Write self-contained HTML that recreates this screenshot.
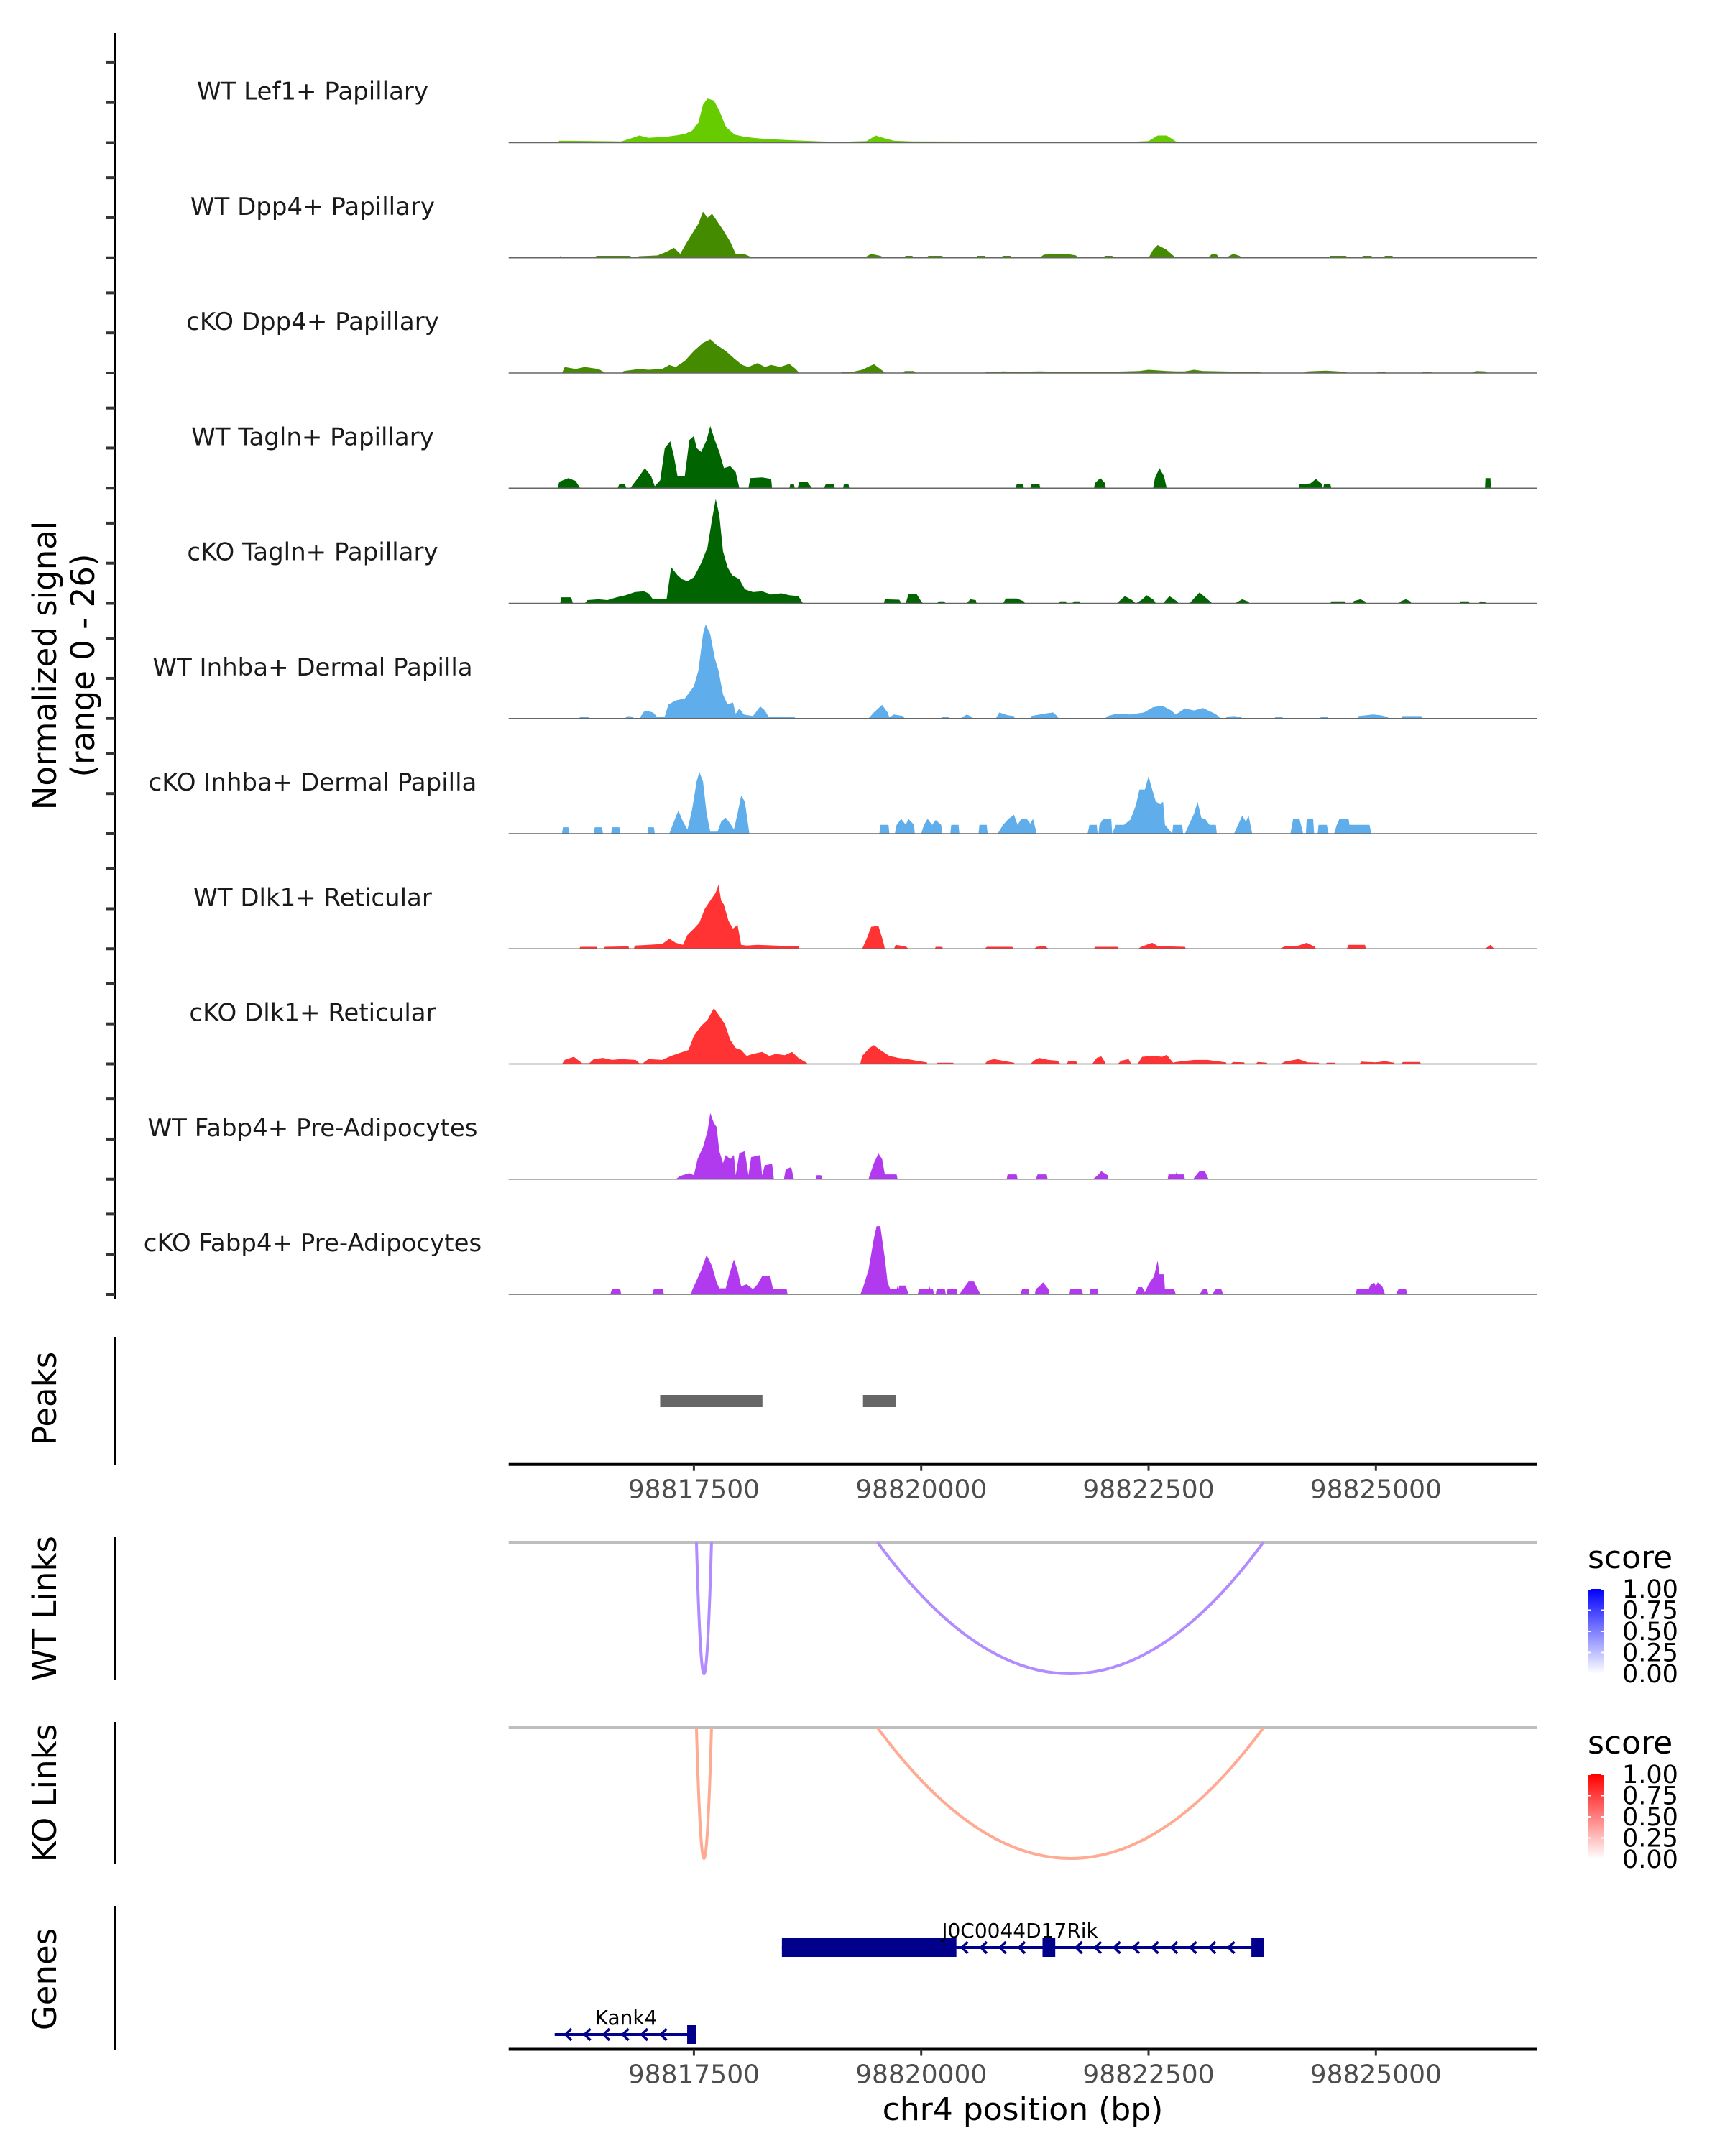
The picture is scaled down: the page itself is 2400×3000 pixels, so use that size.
<!DOCTYPE html>
<html>
<head>
<meta charset="utf-8">
<style>
html,body{margin:0;padding:0;background:#fff;}
svg{display:block;}
text{font-family:"DejaVu Sans","Liberation Sans",sans-serif;}
</style>
</head>
<body>
<svg id="fig" xmlns="http://www.w3.org/2000/svg" width="2400" height="3000" viewBox="0 0 2400 3000">
  <g id="cov"></g>
  <g id="peaks"></g>
  <g id="links"></g>
  <g id="genes"></g>
  <text transform="translate(78,926) rotate(-90)" text-anchor="middle" font-size="45" fill="#000">Normalized signal</text>
  <text transform="translate(131,926) rotate(-90)" text-anchor="middle" font-size="45" fill="#000">(range 0 - 26)</text>
  <text transform="translate(78,1946) rotate(-90)" text-anchor="middle" font-size="45" fill="#000">Peaks</text>
  <text transform="translate(78,2238) rotate(-90)" text-anchor="middle" font-size="45" fill="#000">WT Links</text>
  <text transform="translate(78,2495) rotate(-90)" text-anchor="middle" font-size="45" fill="#000">KO Links</text>
  <text transform="translate(78,2754) rotate(-90)" text-anchor="middle" font-size="45" fill="#000">Genes</text>
  <text x="1423" y="2950" text-anchor="middle" font-size="44" fill="#000">chr4 position (bp)</text>
</svg>
<script>
// ---------- data ----------
const trackNames = ["WT Lef1+ Papillary","WT Dpp4+ Papillary","cKO Dpp4+ Papillary","WT Tagln+ Papillary","cKO Tagln+ Papillary","WT Inhba+ Dermal Papilla","cKO Inhba+ Dermal Papilla","WT Dlk1+ Reticular","cKO Dlk1+ Reticular","WT Fabp4+ Pre-Adipocytes","cKO Fabp4+ Pre-Adipocytes"];
const trackColors = ["#66cc00","#458b00","#458b00","#006400","#006400","#5fadea","#5fadea","#ff3333","#ff3333","#b23aee","#b23aee"];
// coverage points: [bin (100bp from 98815500), signal]
const covWTLef1 = [[5,0],[5.2,0.5],[9,0.4],[12,0.3],[13,1],[14,1.8],[15,1.2],[17,1.5],[18,1.8],[19,2.2],[19.8,3],[20.5,5],[21,9.5],[21.5,11],[22.2,10.5],[22.8,8],[23.5,4],[24.5,2],[25.5,1.5],[26.5,1.2],[27.5,1],[29,0.8],[31,0.6],[34,0.3],[36,0.2],[39,0.4],[40,1.8],[40.8,1.2],[42,0.5],[44,0.3],[60,0.2],[68,0.2],[70,0.4],[71,1.8],[72,1.8],[73,0.3],[75,0.1],[108,0.1],[108.5,0]];
const covWTDpp4 = [[5,0],[5.3,0.4],[5.6,0],[9,0],[9.3,0.5],[13,0.5],[13.2,0],[14,0.4],[15,0.5],[16,0.6],[17,1.5],[17.8,2.5],[18.5,1],[19,3],[19.8,6],[20.5,8.5],[21,11.5],[21.5,10],[22,11],[22.6,9],[23.2,7],[24,4],[24.6,1],[25.5,1],[26,0.5],[26.5,0],[38.7,0],[39.5,1],[40.5,0.5],[41,0],[43,0],[43.3,0.5],[44,0.5],[44.3,0],[45.5,0],[45.8,0.5],[47.3,0.5],[47.5,0],[51,0],[51.2,0.5],[52,0.5],[52.2,0],[53.7,0],[54,0.5],[54.8,0.5],[55,0],[58,0],[58.5,0.8],[61,1],[62,0.6],[62.3,0],[65,0],[65.2,0.5],[66,0.5],[66.2,0],[70,0],[70.5,2],[71,3.2],[72,2],[72.5,1],[73,0],[76.5,0],[77,1],[77.5,0.8],[77.8,0],[78.5,0],[79.3,1],[80,0.5],[80.3,0],[89.7,0],[90,0.5],[91.7,0.5],[92,0],[93.3,0],[93.6,0.5],[94.5,0.5],[94.7,0],[95.8,0],[96,0.5],[96.8,0.5],[97,0]];
const covKODpp4 = [[5.5,0],[5.8,1.5],[7,1],[8,1.5],[9.5,1],[10.3,0],[12,0],[12.3,0.5],[14,1],[15,0.8],[16.5,1],[17.3,2],[18,1.5],[19,3],[20,5.5],[21,7.5],[21.8,8.4],[22.5,7],[23.5,5.5],[24.5,3.5],[25.3,2],[26,1.5],[27,2.5],[27.8,1.5],[28.5,2],[29.5,1.5],[30.5,2.3],[31.2,1],[31.6,0],[36,0],[36.5,0.3],[37.5,0.3],[38.5,0.8],[39.8,2.2],[40.8,0.5],[41,0],[43,0],[43.2,0.5],[44.2,0.5],[44.4,0],[52,0],[52.2,0.3],[53,0.2],[54,0.4],[56,0.3],[58,0.4],[60,0.3],[62,0.3],[64,0.2],[66,0.3],[69,0.5],[70,0.8],[72,0.5],[73,0.4],[74,0.4],[75,0.8],[76,0.5],[78,0.4],[80,0.3],[82,0.2],[83,0],[87,0],[87.5,0.4],[89.5,0.6],[91.5,0.3],[92,0],[95,0],[95.3,0.3],[96,0.3],[96.2,0],[100,0],[100.3,0.3],[101,0.3],[101.2,0],[105.5,0],[106,0.5],[107,0.4],[107.3,0]];
const covWTTagln = [[5,0],[5.2,1.6],[6.2,2.5],[7,1.8],[7.5,0],[11.6,0],[11.8,1],[12.4,1],[12.6,0],[13,0],[14,3],[14.6,5],[15.3,3],[15.7,0.5],[16.3,2],[16.8,10],[17.4,11.7],[17.8,8],[18.2,3],[19,3],[19.5,12],[20,13],[20.3,10],[20.8,9],[21.4,12],[21.8,15.5],[22.3,12],[22.8,9],[23.3,5],[24,5.5],[24.6,4],[25,0],[26,0],[26.2,2.5],[27.5,2.7],[28.5,2.3],[28.6,0],[30.5,0],[30.6,1],[31,1],[31.1,0],[31.4,0],[31.6,1.5],[32.5,1.5],[33,0],[34.3,0],[34.5,1],[35.4,1],[35.5,0],[36.4,0],[36.5,1],[37,1],[37.1,0],[55.4,0],[55.5,1],[56.2,1],[56.3,0],[57,0],[57.1,1],[58,1],[58.1,0],[64,0],[64.1,1.3],[64.7,2.5],[65.2,1.3],[65.3,0],[70.5,0],[70.7,2.5],[71.2,5],[71.7,3],[72,0],[86.5,0],[86.6,1],[87.8,1.2],[88.4,2.3],[89,1.2],[89.2,0],[89.3,1],[90,1],[90.1,0],[107,0],[107.05,2.5],[107.6,2.5],[107.65,0]];
const covKOTagln = [[5.3,0],[5.4,1.5],[6.5,1.5],[6.7,0],[8,0],[8.3,0.8],[9.5,1],[10.5,0.8],[11.5,1.5],[12.5,2],[13.5,2.8],[14.5,3],[15,2.5],[15.5,1],[17,1],[17.5,9],[18.2,7],[18.7,6],[19.3,5.5],[20,6.5],[20.8,10],[21.5,14],[22,21],[22.4,26],[22.8,22],[23.2,13],[23.7,9],[24.2,7],[25,6],[25.6,3.5],[26.5,2.8],[27.5,3],[28.5,2.2],[29.6,2.5],[30.5,2],[31.5,1.8],[32,0],[40.9,0],[41,1],[42.6,0.9],[42.8,0],[43.3,0],[43.6,2.3],[44.5,2.3],[45,0.5],[45.2,0],[46.7,0],[47,0.5],[47.5,0.5],[47.7,0],[50,0],[50.4,1],[51,0.8],[51.1,0],[54,0],[54.3,1.2],[55.5,1.2],[56.3,0.5],[56.4,0],[60.1,0],[60.3,0.5],[60.9,0.5],[61,0],[61.6,0],[61.8,0.5],[62.4,0.5],[62.5,0],[66.5,0],[67.4,1.8],[68.2,0.8],[68.6,0],[69.2,0.8],[69.8,2],[70.6,0.8],[70.8,0],[71.6,0],[72.3,1.8],[73.2,0.4],[73.3,0],[74.5,0],[75.6,2.7],[76.5,1],[77,0],[79.5,0],[80.3,1],[81,0.4],[81.1,0],[90,0],[90.1,0.5],[91.6,0.5],[91.7,0],[92.4,0],[92.6,0.6],[93.3,1],[93.8,0.5],[93.9,0],[97.5,0],[97.8,0.6],[98.3,1],[98.8,0.5],[98.9,0],[104.2,0],[104.3,0.5],[105.2,0.5],[105.3,0],[106.3,0],[106.5,0.5],[107,0.4],[107.1,0]];
const covWTInhba = [[7.4,0],[7.5,0.5],[8.4,0.5],[8.5,0],[12.4,0],[12.7,0.6],[13.3,0.5],[13.4,0],[14,0],[14.6,2],[15.5,1.5],[16,0.3],[16.8,0.5],[17.2,3.5],[18,4.5],[19,5],[19.5,6.5],[20,8],[20.5,12],[21,21],[21.3,23.5],[21.8,21],[22.3,15],[22.7,12],[23.2,6],[23.7,3.5],[24.3,4],[24.6,1.2],[25,2.5],[25.5,1],[26.5,0.6],[27.3,3],[27.8,2],[28.2,0.5],[31,0.5],[31.2,0],[39.2,0],[39.8,1.5],[40.7,3.4],[41.3,1.5],[41.5,0.3],[42,1],[43,0.6],[43.2,0],[47.2,0],[47.3,0.5],[48,0.5],[48.1,0],[49.3,0],[50,1],[50.5,0.5],[50.6,0],[53.2,0],[53.6,1.5],[54.5,0.8],[55.2,0.6],[55.3,0],[57,0],[57.1,0.6],[58.5,1.2],[59.5,1.5],[60,0.5],[60.1,0],[65.2,0],[65.5,0.6],[66.5,1.2],[68,1],[69.5,1.5],[70.5,2.8],[71.5,3.2],[72.5,2],[73,1],[74,2.5],[75,2],[76,2.6],[77.3,1.2],[77.8,0.4],[78,0],[78.5,0],[78.6,0.5],[79.5,0.6],[80.2,0.3],[80.3,0],[83.8,0],[84,0.4],[84.7,0.4],[84.8,0],[88.8,0],[89,0.4],[89.7,0.4],[89.8,0],[93,0],[93.1,0.6],[94.7,1],[95.5,0.8],[96.3,0.4],[96.4,0],[97.8,0],[97.9,0.6],[100,0.6],[100.1,0]];
const covKOInhba = [[5.5,0],[5.6,1.6],[6.2,1.6],[6.3,0],[9,0],[9.1,1.6],[9.9,1.6],[10,0],[10.9,0],[11,1.6],[11.8,1.6],[11.9,0],[14.9,0],[15,1.6],[15.6,1.6],[15.7,0],[17.3,0],[17.8,3],[18.3,5.8],[18.8,3],[19.3,1],[19.8,6],[20.3,13],[20.6,15.4],[21,13],[21.4,5],[21.8,0.5],[22.6,0.5],[23,3],[23.5,4],[24,2.5],[24.4,1],[24.8,5],[25.2,9.5],[25.6,8],[26.1,0],[40.4,0],[40.5,2.2],[41.4,2.2],[41.5,0],[42.1,0],[42.3,2.2],[42.8,3.7],[43.3,2.2],[43.6,3.7],[44.2,2.2],[44.3,0],[45,0],[45.3,2.2],[45.7,3.7],[46.2,2.2],[46.6,3.4],[47.2,2.2],[47.3,0],[48.2,0],[48.3,2.2],[49.1,2.2],[49.2,0],[51.3,0],[51.4,2.2],[52.2,2.2],[52.3,0],[53.4,0],[54,2.2],[54.6,3.7],[55.2,4.7],[55.6,2.2],[56,3.7],[56.6,3.7],[57,2.5],[57.3,3.7],[57.7,0],[63.3,0],[63.5,2.2],[64.3,2.2],[64.4,0],[64.5,0],[64.6,2.2],[65,3.7],[65.9,3.7],[66,0],[66.4,2.2],[67.3,2.2],[68,3.5],[68.6,7],[69,11],[69.6,11],[70,14.3],[70.4,11],[70.8,8],[71.3,7.3],[71.6,8],[71.8,2.2],[72.6,0],[72.7,2.2],[73.7,2.2],[73.8,0],[74,0],[74.5,2.5],[75,5],[75.4,7.9],[75.8,4],[76.3,3.5],[76.7,2.2],[77.4,2.2],[77.5,0],[79.4,0],[80,3],[80.3,4.5],[80.7,3],[81,4.5],[81.4,0],[85.6,0],[85.9,3.7],[86.6,3.7],[87,0],[87.3,0],[87.4,3.7],[88.1,3.7],[88.2,0],[88.6,0],[88.7,2.2],[89.6,2.2],[89.8,0],[90.4,0],[90.7,2.2],[91,3.7],[92,3.7],[92.1,2.2],[94.3,2.2],[94.5,0]];
const covWTDlk1 = [[7.4,0],[7.5,0.5],[9.3,0.5],[9.4,0],[10.1,0],[10.2,0.5],[12.8,0.6],[12.9,0],[13.4,0],[13.5,0.8],[15,1],[16.5,1.2],[17.3,2.5],[18,1.5],[18.8,1],[19.3,3.5],[20,5],[20.6,6.5],[21.2,10],[21.8,12],[22.4,14],[22.7,16],[23,12],[23.3,11],[23.8,7],[24.3,5],[24.8,6],[25.2,1],[25.8,0.8],[27,1],[29,0.8],[31.5,0.6],[31.6,0],[38.5,0],[39,2.5],[39.5,5.5],[40.3,5.7],[40.8,2],[41,0],[42,0],[42.2,1],[43.3,0.6],[43.6,0],[46.5,0],[46.6,0.5],[47.3,0.5],[47.4,0],[52,0],[52.2,0.5],[55,0.5],[55.2,0],[57.4,0],[57.7,0.5],[58.6,0.7],[59,0],[64,0],[64.1,0.5],[66.6,0.5],[66.7,0],[68.8,0],[69.3,0.6],[70.4,1.5],[71,0.7],[72,0.6],[74,0.5],[74.1,0],[84.4,0],[85,0.6],[86.5,0.8],[87.4,1.5],[88.3,0.5],[88.4,0],[91.8,0],[92,1],[93.8,1],[93.9,0],[107,0],[107.6,1],[108,0]];
const covKODlk1 = [[5.5,0],[5.8,1],[6.8,1.8],[7.7,0.2],[8.5,0.2],[9,1.2],[10,1.5],[11,1],[12,1.2],[13.6,1],[14,0.2],[14.4,0.2],[15,1.2],[16.5,1],[17.5,2],[18.5,2.8],[19.4,3.5],[20,7],[20.8,9.5],[21.5,11],[22.2,13.9],[22.8,12],[23.4,10],[24,6],[24.6,4],[25.2,3.5],[25.8,2],[26.5,2.5],[27.5,3],[28.3,2],[29,2.5],[30,2.2],[30.8,3],[31.5,1.5],[32.4,0.3],[32.5,0],[38.3,0],[38.5,2],[39.3,4],[39.8,4.7],[40.5,3.5],[41.5,2],[42.5,1.5],[43.5,1.2],[44.5,0.8],[45.6,0.4],[45.7,0],[46.7,0],[46.8,0.3],[48.5,0.3],[48.6,0],[52,0],[52.3,0.8],[53,1.2],[54.5,0.6],[55.2,0.3],[55.3,0],[57,0],[57.5,1],[58,1.5],[59,1],[60,0.8],[60.3,0],[61,0],[61.2,0.8],[62,0.8],[62.2,0],[63.8,0],[64.3,1.5],[64.8,1.9],[65.2,0.5],[65.3,0],[66.6,0],[67,0.8],[67.8,1.2],[68.1,0],[68.8,0],[69.3,1.8],[70.5,2],[71.5,1.8],[72,2.3],[72.7,0.3],[73,0.5],[75,1],[76.5,1],[78.5,0.4],[78.6,0],[79,0],[79.3,0.5],[80.5,0.4],[80.6,0],[81.8,0],[82,0.5],[83,0.3],[83.1,0],[84.5,0],[85,0.6],[86.5,1.2],[87.5,0.4],[88.7,0.3],[88.8,0],[89.5,0],[89.6,0.3],[90.5,0.3],[90.6,0],[93.2,0],[93.4,0.6],[95,0.4],[96,0.7],[97,0.3],[97.1,0],[97.7,0],[98,0.5],[99.8,0.5],[100,0]];
const covWTFabp4 = [[18,0],[18.5,0.8],[19.5,1.5],[20,1],[20.4,5],[21,8],[21.5,12],[21.8,16.5],[22.2,14],[22.5,13],[22.8,7],[23.2,4],[23.5,6],[24,5],[24.4,6],[24.6,1],[25,6.5],[25.6,7],[26,1],[26.3,5.5],[27.3,6],[27.5,1],[27.8,3.5],[28.6,3.8],[28.8,0],[29.9,0],[30.1,2.5],[30.7,3],[31,0],[33.4,0],[33.5,1],[34,1],[34.1,0],[39.2,0],[39.8,4],[40.3,6.4],[40.7,5],[41,1.2],[42.3,1.2],[42.4,0],[54.4,0],[54.5,1.2],[55.5,1.2],[55.6,0],[57.6,0],[57.8,1.2],[58.8,1.2],[58.9,0],[63.9,0],[64.5,1.2],[64.8,2],[65.5,1],[65.6,0],[72.1,0],[72.2,1.2],[73,1.2],[73.1,2],[73.2,1.2],[73.9,1.2],[74,0],[74.9,0],[75.3,1.2],[75.6,2],[76.2,2],[76.6,0]];
const covKOFabp4 = [[10.8,0],[11,1.3],[11.9,1.3],[12,0],[15.4,0],[15.6,1.3],[16.6,1.3],[16.7,0],[19.7,0],[19.8,1],[20.2,3],[20.8,6],[21.4,9.8],[22,7],[22.5,3],[22.8,1.5],[23.5,1.5],[23.9,5],[24.4,8.7],[24.8,6],[25.2,2],[25.8,2.5],[26.5,1.3],[27,2.5],[27.5,4.5],[28.4,4.5],[28.7,1.3],[30.2,1.3],[30.3,0],[38.3,0],[38.5,1],[39.2,6],[39.8,14],[40.1,17],[40.5,17],[41,9],[41.3,3],[41.6,1.3],[42.3,1.3],[42.4,2],[42.5,1.3],[42.6,2.2],[43.3,2.2],[43.6,0],[44.6,0],[44.8,1.3],[45.8,1.3],[45.9,2],[46,1.3],[46.3,1.3],[46.4,0],[46.6,0],[46.7,1.3],[47.6,1.3],[47.7,0],[47.8,0],[47.9,1.3],[48.9,1.3],[49,0],[49.2,0],[49.6,1.3],[50.2,3.2],[50.8,3.2],[51.4,0.5],[51.5,0],[55.9,0],[56.1,1.3],[56.8,1.3],[56.9,0],[57.5,0],[57.6,1.3],[58,2],[58.4,3],[59,1.3],[59.1,0],[61.3,0],[61.4,1.3],[62.6,1.3],[62.8,0],[63.5,0],[63.6,1.3],[64.4,1.3],[64.5,0],[68.5,0],[68.9,1.8],[69.3,1.8],[69.6,0.5],[70,2.5],[70.6,4.5],[71,8.4],[71.2,5],[71.7,5],[71.8,1.3],[72.8,1.3],[73,0],[75.6,0],[76,1.3],[76.4,1.3],[76.6,0],[77,0],[77.4,1.3],[78,1.3],[78.2,0],[92.8,0],[92.9,1.3],[94.2,1.3],[94.4,2.3],[94.8,3],[95,2],[95.2,3],[95.7,2],[96,0],[97.2,0],[97.5,1.3],[98.3,1.3],[98.5,0]];
const coverage = [covWTLef1,covWTDpp4,covKODpp4,covWTTagln,covKOTagln,covWTInhba,covKOInhba,covWTDlk1,covKODlk1,covWTFabp4,covKOFabp4];
const yTicks = [0,10,20];
const xTicks = [98817500,98820000,98822500,98825000];
const peakStarts = [98817129,98819360];
const peakEnds = [98818254,98819718];
const linkStarts = [98817528,98819519];
const linkEnds = [98817694,98823763];
const wtLinkScores = [0.5,0.5];
const koLinkScores = [0.45,0.45];
const legendTicks = [1.00,0.75,0.50,0.25,0.00];
const geneNames = ["J0C0044D17Rik","Kank4"];
const geneStarts = [98818468,98815969];
const geneEnds = [98823772,98817528];
const geneExons = [[[98818468,98820387],[98821334,98821474],[98823631,98823772]],[[98817426,98817528]]];

// ---------- scales ----------
const NS = "http://www.w3.org/2000/svg";
const X0 = 707.7, X1 = 2138.5;
function xScale(bp){ return 965.4 + (bp - 98817500) * 0.126520; }
function binBp(b){ return 98815500 + b * 100; }
const base0 = 198.5, trackStep = 160.25, pxPerUnit = 5.58;
function trackBase(i){ return base0 + i * trackStep; }
function yScale(i, v){ return trackBase(i) - v * pxPerUnit; }
function mk(tag, attrs, parent){ const e = document.createElementNS(NS, tag); for (const k in attrs) e.setAttribute(k, attrs[k]); parent.appendChild(e); return e; }

// ---------- coverage ----------
const cov = document.getElementById('cov');
const yAxis = mk('line', {x1:160, y1:46, x2:160, y2:1808, stroke:'#000', 'stroke-width':4}, cov);


trackNames.forEach((name, i) => {
  const g = mk('g', {}, cov);
  
  
  yTicks.forEach(t => {
    const tk = mk('line', {x1:148, x2:160, y1:yScale(i, t), y2:yScale(i, t), stroke:'#333', 'stroke-width':4}, g);
    
    
  });
  const pts = coverage[i];
  let d = 'M' + xScale(binBp(pts[0][0])).toFixed(1) + ',' + trackBase(i).toFixed(1);
  pts.forEach(p => { d += 'L' + xScale(binBp(p[0])).toFixed(1) + ',' + yScale(i, p[1]).toFixed(1); });
  d += 'L' + xScale(binBp(pts[pts.length-1][0])).toFixed(1) + ',' + trackBase(i).toFixed(1) + 'Z';
  const area = mk('path', {d:d, fill:trackColors[i], stroke:'none'}, g);
  
  
  const bl = mk('line', {x1:X0, x2:X1, y1:trackBase(i), y2:trackBase(i), stroke:'#666', 'stroke-width':1.6}, g);
  
  
  const lb = mk('text', {x:435, y:trackBase(i) - 60, 'text-anchor':'middle', 'font-size':34, fill:'#1a1a1a'}, g);
  lb.textContent = name;
  
  
});

// ---------- x axis helper ----------
function xAxis(parent, y, name){
  const g = mk('g', {}, parent);
  
  
  mk('line', {x1:X0, x2:X1, y1:y, y2:y, stroke:'#000', 'stroke-width':4}, g);
  xTicks.forEach(t => {
    const tk = mk('line', {x1:xScale(t), x2:xScale(t), y1:y, y2:y+9, stroke:'#333', 'stroke-width':3}, g);
    
    
    const tl = mk('text', {x:xScale(t), y:y+47, 'text-anchor':'middle', 'font-size':36, fill:'#4d4d4d'}, g);
    tl.textContent = String(t);
    
    
  });
}

// ---------- peaks ----------
const pk = document.getElementById('peaks');
const pkAx = mk('line', {x1:160, x2:160, y1:1861, y2:2038, stroke:'#000', 'stroke-width':4}, pk);


peakStarts.forEach((s, i) => {
  const r = mk('rect', {x:xScale(s), y:1941, width:xScale(peakEnds[i]) - xScale(s), height:17, fill:'#666'}, pk);
  
  
});
xAxis(pk, 2037.7, 'peaks-x-axis');

// ---------- links ----------
const lk = document.getElementById('links');
function linkPanel(top, bottom, scores, hue, label, legTop){
  const g = mk('g', {}, lk);
  
  
  mk('line', {x1:160, x2:160, y1:top - 8, y2:bottom + 8, stroke:'#000', 'stroke-width':4}, g);
  mk('line', {x1:X0, x2:X1, y1:top, y2:top, stroke:'#bebebe', 'stroke-width':4}, g);
  const depth = bottom - top;
  linkStarts.forEach((s, i) => {
    const xa = xScale(s), xb = xScale(linkEnds[i]);
    const s2 = scores[i];
    const col = hue === 'blue'
      ? 'rgb(' + Math.round(255 - 154*s2) + ',' + Math.round(255 - 230*s2) + ',255)'
      : 'rgb(255,' + Math.round(255 - 190*s2) + ',' + Math.round(255 - 240*s2) + ')';
    const p = mk('path', {d:'M' + xa + ',' + top + ' Q' + ((xa+xb)/2) + ',' + (top + 2*depth) + ' ' + xb + ',' + top, fill:'none', stroke:col, 'stroke-width':4}, g);
    
    
  });
  const lg = mk('g', {}, g);
  
  
  const t = mk('text', {x:2209, y:legTop - 29, 'font-size':44, fill:'#000'}, lg);
  t.textContent = 'score';
  const gid = 'grad-' + hue;
  const defs = mk('defs', {}, lg);
  const gr = mk('linearGradient', {id:gid, x1:0, y1:1, x2:0, y2:0}, defs);
  mk('stop', {offset:'0', 'stop-color':'#ffffff'}, gr);
  mk('stop', {offset:'1', 'stop-color': hue === 'blue' ? '#0000ff' : '#ff0000'}, gr);
  const barH = 118;
  const bar = mk('rect', {x:2209, y:legTop, width:23, height:barH, fill:'url(#' + gid + ')'}, lg);
  
  
  legendTicks.forEach(v => {
    const y = legTop + (1 - v) * barH;
    mk('line', {x1:2209, x2:2213, y1:y, y2:y, stroke:'#fff', 'stroke-width':2}, lg);
    mk('line', {x1:2228, x2:2232, y1:y, y2:y, stroke:'#fff', 'stroke-width':2}, lg);
    const tl = mk('text', {x:2257, y:y + 12, 'font-size':35, fill:'#000'}, lg);
    tl.textContent = v.toFixed(2);
    
    
  });
}
linkPanel(2146, 2329, wtLinkScores, 'blue', 'wt-links-panel', 2211);
linkPanel(2404, 2586, koLinkScores, 'red', 'ko-links-panel', 2469);

// ---------- genes ----------
const gn = document.getElementById('genes');
const gAx = mk('line', {x1:160, x2:160, y1:2652, y2:2852, stroke:'#000', 'stroke-width':4}, gn);


const geneY = [2710, 2831];
geneNames.forEach((name, i) => {
  const g = mk('g', {}, gn);
  
  
  const y = geneY[i];
  const xa = xScale(geneStarts[i]), xb = xScale(geneEnds[i]);
  mk('line', {x1:xa, x2:xb, y1:y, y2:y, stroke:'#00008b', 'stroke-width':4}, g);
  for (let cx = xb - 20; cx > xa + 4; cx -= 26.5) {
    let inExon = geneExons[i].some(e => cx >= xScale(e[0]) - 8 && cx <= xScale(e[1]) + 6);
    if (inExon) continue;
    mk('path', {d:'M' + (cx+5) + ',' + (y-8) + ' L' + (cx-3) + ',' + y + ' L' + (cx+5) + ',' + (y+8), fill:'none', stroke:'#00008b', 'stroke-width':3.5}, g);
  }
  geneExons[i].forEach(e => {
    const r = mk('rect', {x:xScale(e[0]), y:y - 13, width:xScale(e[1]) - xScale(e[0]), height:26, fill:'#00008b'}, g);
    
    
  });
  const tl = mk('text', {x: i === 0 ? 1419 : 871, y:y - 14, 'text-anchor':'middle', 'font-size':28, fill:'#000'}, g);
  tl.textContent = name;
  
  
});
xAxis(gn, 2851.5, 'genes-x-axis');
</script>
</body>
</html>
